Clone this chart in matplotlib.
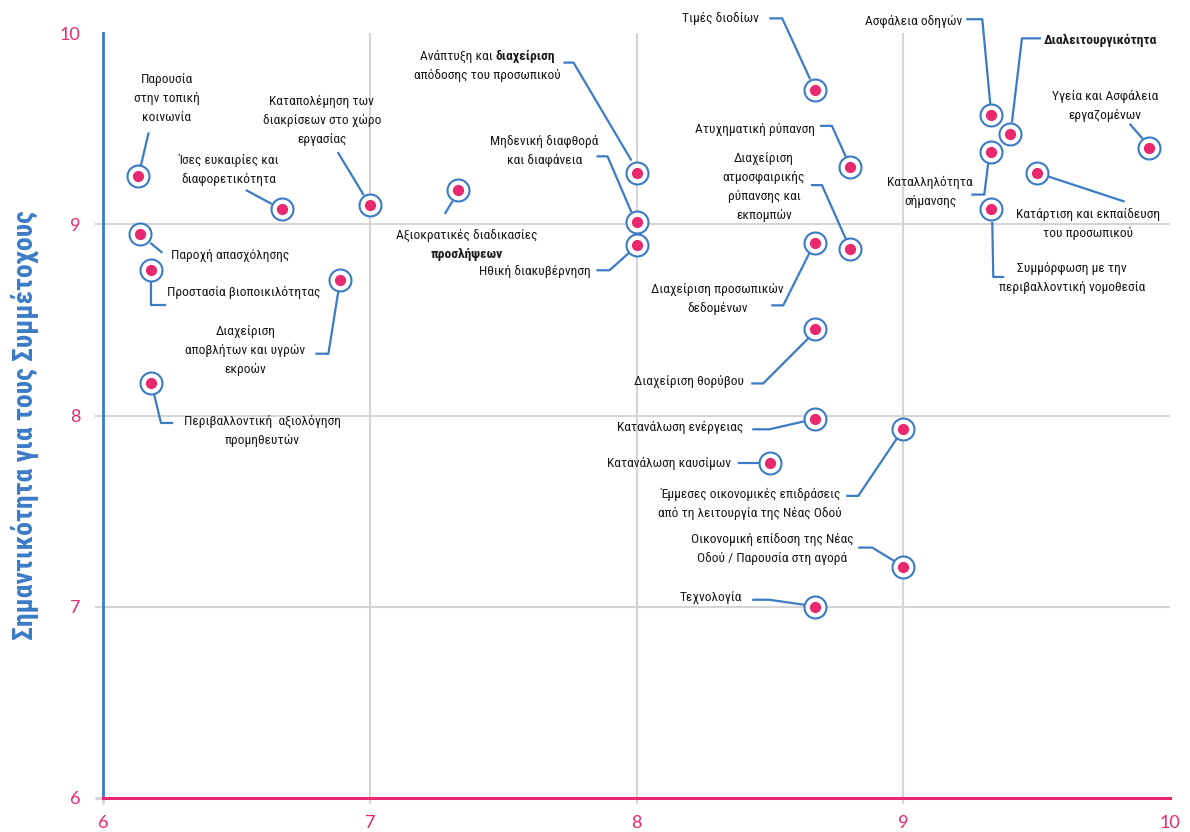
import matplotlib
matplotlib.use('Agg')
import matplotlib.pyplot as plt
from matplotlib.transforms import IdentityTransform
from matplotlib.lines import Line2D
from matplotlib import font_manager

# ---------------- data ----------------
labels = [
    "Παρουσία\nστην τοπική\nκοινωνία",
    "Ίσες ευκαιρίες και\nδιαφορετικότητα",
    "Καταπολέμηση των\nδιακρίσεων στο χώρο\nεργασίας",
    "Αξιοκρατικές διαδικασίες\n**προσλήψεων**",
    "Παροχή απασχόλησης",
    "Προστασία βιοποικιλότητας",
    "Διαχείριση\nαποβλήτων και υγρών\nεκροών",
    "Περιβαλλοντική  αξιολόγηση\nπρομηθευτών",
    "Ανάπτυξη και **διαχείριση**\nαπόδοσης του προσωπικού",
    "Μηδενική διαφθορά\nκαι διαφάνεια",
    "Ηθική διακυβέρνηση",
    "Τιμές διοδίων",
    "Ατυχηματική ρύπανση",
    "Διαχείριση\nατμοσφαιρικής\nρύπανσης και\nεκπομπών",
    "Διαχείριση προσωπικών\nδεδομένων",
    "Διαχείριση θορύβου",
    "Κατανάλωση ενέργειας",
    "Κατανάλωση καυσίμων",
    "Έμμεσες οικονομικές επιδράσεις\nαπό τη λειτουργία της Νέας Οδού",
    "Οικονομική επίδοση της Νέας\nΟδού / Παρουσία στη αγορά",
    "Τεχνολογία",
    "Ασφάλεια οδηγών",
    "**Διαλειτουργικότητα**",
    "Καταλληλότητα\nσήμανσης",
    "Υγεία και Ασφάλεια\nεργαζομένων",
    "Κατάρτιση και εκπαίδευση\nτου προσωπικού",
    "Συμμόρφωση με την\nπεριβαλλοντική νομοθεσία",
]
x_values = [6.13, 6.67, 7.00, 7.33, 6.14, 6.18, 6.89, 6.18, 8.00, 8.00,
            8.00, 8.67, 8.80, 8.80, 8.67, 8.67, 8.67, 8.50, 9.00, 9.00,
            8.67, 9.33, 9.40, 9.33, 9.92, 9.50, 9.33]
y_values = [9.25, 9.08, 9.10, 9.18, 8.95, 8.76, 8.71, 8.17, 9.27, 9.01,
            8.89, 9.70, 9.30, 8.87, 8.90, 8.45, 7.98, 7.75, 7.93, 7.21,
            7.00, 9.57, 9.47, 9.38, 9.40, 9.27, 9.08]
x_ticks = [6, 7, 8, 9, 10]
y_ticks = [6, 7, 8, 9, 10]
y_title = "Σημαντικότητα για τους Συμμέτοχους"

# ------------- layout (pixel offsets from marker centre, y down) -------------
label_offsets = [(29, -78), (-53, -39), (-48, -85), (9, 55), (31, 22), (16, 22),
                 (-95, 71), (111, 48), (-149, -107), (-92, -71), (-46, 26),
                 (-56, -72), (-35, -37), (-86, -62), (-98, 56), (-71, 52),
                 (-72, 8), (-39, 0), (-153, 75), (-131, -18), (-73, -9),
                 (-29, -94), (34, -94), (-61, 40), (-44, -42), (51, 51), (81, 69)]
label_ha = ['center', 'center', 'center', 'center', 'left', 'left', 'center',
            'center', 'center', 'center', 'right', 'right', 'right', 'center',
            'center', 'right', 'right', 'right', 'center', 'center', 'right',
            'right', 'left', 'center', 'center', 'center', 'center']
leader_paths = [
    [(11, -44), (3, -10)],
    [(-36, -19), (-10, -5)],
    [(-32, -53), (-6, -10)],
    [(-13, 24), (-5, 11)],
    [(10, 9), (22, 19)],
    [(0, 12), (0, 35), (15, 35)],
    [(-2, 11), (-12, 74), (-25, 74)],
    [(3, 11), (10, 40), (22, 40)],
    [(-73, -110), (-63, -110), (-5, -12)],
    [(-40, -66), (-29, -66), (-5, -10)],
    [(-40, 25), (-27, 25), (-8, 8)],
    [(-46, -72), (-33, -72), (-5, -11)],
    [(-30, -41), (-18, -41), (-4, -10)],
    [(-39, -64), (-28, -64), (-4, -10)],
    [(-44, 62), (-32, 62), (-6, 10)],
    [(-64, 54), (-52, 54), (-6, 8)],
    [(-63, 10), (-46, 10), (-11, 2)],
    [(-32, 0), (-11, 0)],
    [(-57, 67), (-45, 67), (-6, 9)],
    [(-45, -19), (-31, -19), (-8, -5)],
    [(-63, -7), (-46, -7), (-11, -2)],
    [(-25, -96), (-9, -96), (-1, -11)],
    [(31, -96), (12, -96), (2, -12)],
    [(-20, 43), (-7, 43), (-3, 11)],
    [(-19, -24), (-6, -9)],
    [(88, 29), (12, 4)],
    [(1, 13), (2, 68), (13, 68)],
]

BLUE = '#3b7bc6'
PINK = '#e8286f'
GRID = '#d5d5d5'

# ---- choose a condensed sans font if one is available ----
entries = font_manager.fontManager.ttflist
names = {f.name for f in entries}
FONT_KW = None
for cand in ['Roboto Condensed', 'Liberation Sans Narrow', 'Open Sans Condensed',
             'Noto Sans Condensed', 'DejaVu Sans Condensed', 'Arial Narrow',
             'Noto Sans Display Condensed']:
    if cand in names:
        FONT_KW = dict(family=[cand, 'DejaVu Sans'])
        break
if FONT_KW is None:
    cond = [f for f in entries if str(f.stretch) in ('condensed', 'semi-condensed',
                                                       'extra-condensed', '300', '400')]
    pref = ['Roboto', 'Open Sans', 'Noto Sans', 'DejaVu Sans', 'Liberation Sans', 'Lato', 'Inter']
    chosen = None
    for p in pref:
        for f in cond:
            if f.name == p:
                chosen = f
                break
        if chosen:
            break
    if chosen is not None:
        FONT_KW = dict(family=[chosen.name, 'DejaVu Sans'], stretch=chosen.stretch)
    else:
        FONT_KW = dict(family=['Roboto', 'DejaVu Sans'])
CONDENSED = ('stretch' in FONT_KW) or FONT_KW['family'][0] != 'Roboto'
TICK_FONT = ['Lato', 'DejaVu Sans']
FS = 9.7 if CONDENSED else 8.5
PITCH = 19.0

W, H = 1190, 832
fig = plt.figure(figsize=(W / 100, H / 100), dpi=100)
L, R, T, B = 103, 1170, 33, 798
ax = fig.add_axes([L / W, (H - B) / H, (R - L) / W, (B - T) / H])
ax.set_xlim(x_ticks[0], x_ticks[-1])
ax.set_ylim(y_ticks[0], y_ticks[-1])
ax.autoscale(False)

for s in ['top', 'right']:
    ax.spines[s].set_visible(False)
ax.spines['left'].set_color(BLUE)
ax.spines['left'].set_linewidth(2.0)
ax.spines['bottom'].set_color(PINK)
ax.spines['bottom'].set_linewidth(2.2)

for v in x_ticks[1:-1]:
    ax.axvline(v, color=GRID, lw=1.5, zorder=0.5)
for v in y_ticks[1:-1]:
    ax.axhline(v, color=GRID, lw=1.5, zorder=0.5)

ax.set_xticks(x_ticks)
ax.set_yticks(y_ticks)
ax.set_xticklabels([str(t) for t in x_ticks])
ax.set_yticklabels([str(t) for t in y_ticks])
ax.tick_params(axis='x', length=4, width=1.5, color=GRID, pad=8.5,
               labelcolor=PINK, labelsize=13)
ax.tick_params(axis='y', length=6, width=1.5, color=GRID, pad=10.5,
               labelcolor=PINK, labelsize=13)
for lab in ax.get_xticklabels() + ax.get_yticklabels():
    lab.set_family(TICK_FONT)
xt = ax.xaxis.get_major_ticks()
yt = ax.yaxis.get_major_ticks()
xt[0].tick1line.set_color(BLUE)
xt[0].tick1line.set_markeredgewidth(2.0)
yt[0].tick1line.set_color(PINK)
yt[0].tick1line.set_markeredgewidth(2.2)
xt[-1].tick1line.set_visible(False)
yt[-1].tick1line.set_visible(False)

ax.scatter(x_values, y_values, s=250, facecolor='white', edgecolor=BLUE,
           linewidth=1.5, zorder=4, clip_on=False)
ax.scatter(x_values, y_values, s=50, color=PINK, zorder=5, clip_on=False)

fig.text(25, H - 425, y_title, transform=IdentityTransform(), rotation=90,
         ha='center', va='center', color=BLUE,
         fontsize=20 if CONDENSED else 18, fontweight='bold', **FONT_KW)

renderer = fig.canvas.get_renderer()


def text_width(s, weight):
    t = fig.text(0, 0, s, fontsize=FS, weight=weight,
                 transform=IdentityTransform(), **FONT_KW)
    w = t.get_window_extent(renderer).width
    t.remove()
    return w


SPACE = text_width('n n', 'normal') - text_width('nn', 'normal')


def draw_line(x, y, line, ha):
    parts = line.split('**')
    segs = []
    for i, p in enumerate(parts):
        if p.strip() == '':
            continue
        segs.append((p, 'bold' if i % 2 == 1 else 'normal'))
    if len(segs) == 1:
        fig.text(x, y, segs[0][0], transform=IdentityTransform(), ha=ha, va='center',
                 fontsize=FS, weight=segs[0][1], color='#1a1a1a', **FONT_KW)
        return
    segs = [(p.strip(), w) for p, w in segs]
    widths = [text_width(p, w) for p, w in segs]
    total = sum(widths) + SPACE * (len(segs) - 1)
    if ha == 'center':
        x0 = x - total / 2
    elif ha == 'right':
        x0 = x - total
    else:
        x0 = x
    for (p, w), wd in zip(segs, widths):
        fig.text(x0, y, p, transform=IdentityTransform(), ha='left', va='center',
                 fontsize=FS, weight=w, color='#1a1a1a', **FONT_KW)
        x0 += wd + SPACE


for lab, xv, yv, off, ha, path in zip(labels, x_values, y_values, label_offsets,
                                       label_ha, leader_paths):
    px, py = ax.transData.transform((xv, yv))
    lines = lab.split('\n')
    n = len(lines)
    cx, cy = px + off[0], py - off[1]
    for i, ln in enumerate(lines):
        ly = cy + ((n - 1) / 2 - i) * PITCH
        draw_line(cx, ly, ln, ha)
    xs = [px + dx for dx, dy in path]
    ys = [py - dy for dx, dy in path]
    ln2 = Line2D(xs, ys, transform=IdentityTransform(), color=BLUE, lw=1.6,
                 zorder=3, clip_on=False, solid_capstyle='butt', solid_joinstyle='round')
    ax.add_line(ln2)

fig.savefig('out.png', dpi=100)
